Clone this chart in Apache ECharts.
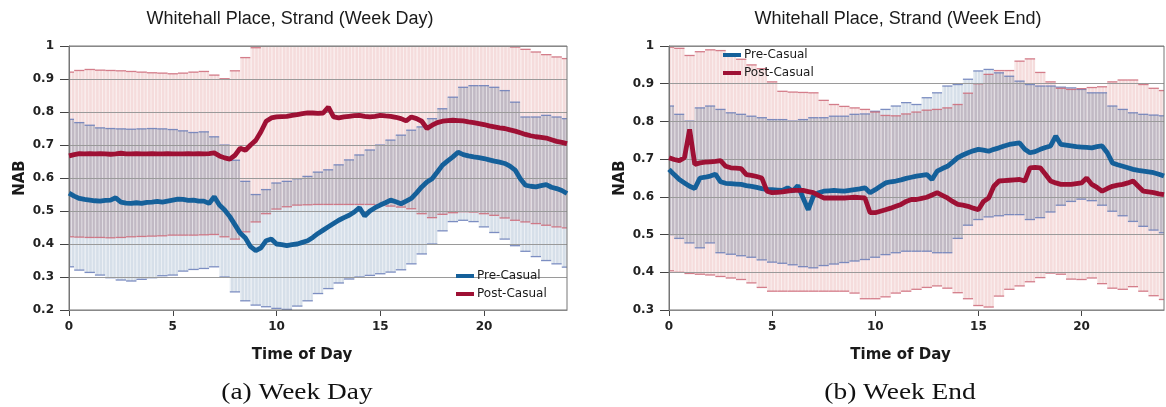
<!DOCTYPE html>
<html><head><meta charset="utf-8">
<script src="https://cdn.jsdelivr.net/npm/echarts@6/dist/echarts.min.js"></script>
<style>html,body{margin:0;padding:0;background:#fff}#c{width:1166px;height:407px}</style>
</head><body><div id="c"></div>
<script>
// ---------- DATA ----------
const seriesNames = ['Pre-Casual', 'Post-Casual'];
const chartTitles = ['Whitehall Place, Strand (Week Day)', 'Whitehall Place, Strand (Week End)'];
const captions = ['(a) Week Day', '(b) Week End'];
const xTicks = [0, 5, 10, 15, 20];

// sampling times (hours): means every 15 min, error bands every 30 min
const meanHours = Array.from({length: 97}, (_, i) => i * 0.25);
const bandHours = Array.from({length: 49}, (_, i) => i * 0.5);

// Week Day means (NAB)
const wdPreMean = [
  .554,.545,.538,.535, .533,.531,.530,.532, .533,.540,.527,.524, .523,.525,.523,.526,
  .527,.529,.527,.530, .533,.536,.535,.532, .533,.530,.530,.523, .543,.518,.503,.483,
  .458,.433,.418,.392, .380,.388,.410,.415, .400,.398,.395,.398, .400,.405,.410,.420,
  .432,.442,.452,.462, .472,.480,.487,.497, .510,.485,.500,.510, .518,.525,.533,.528,
  .522,.530,.538,.555, .573,.588,.598,.618, .639,.652,.664,.678, .671,.667,.664,.662,
  .659,.655,.651,.648, .644,.636,.624,.598, .578,.575,.573,.577, .580,.572,.568,.562,
  .553];
const wdPostMean = [
  .667,.671,.674,.673, .674,.673,.674,.673, .672,.673,.675,.673, .673,.674,.673,.673,
  .674,.673,.673,.674, .673,.673,.673,.674, .673,.674,.673,.674, .676,.667,.661,.657,
  .669,.690,.684,.700, .714,.740,.772,.782, .785,.786,.787,.790, .792,.795,.797,.797,
  .796,.797,.815,.785, .782,.785,.787,.789, .790,.787,.785,.787, .790,.788,.787,.784,
  .780,.773,.785,.780, .772,.750,.760,.768, .772,.774,.775,.774, .773,.770,.768,.765,
  .762,.758,.755,.752, .750,.746,.742,.737, .732,.728,.725,.723, .721,.716,.711,.708,
  .704];
// Week Day bands (every 30 min)
const wdPreHi = [
  .778,.768,.760,.752,.750,.749,.748,.749,.750,.749,
  .747,.743,.738,.740,.725,.700,.654,.590,.550,.565,
  .585,.590,.598,.605,.618,.625,.640,.655,.670,.685,
  .700,.715,.730,.745,.755,.780,.810,.845,.875,.880,
  .880,.875,.865,.830,.785,.785,.790,.785,.780];
const wdPreLo = [
  .331,.321,.314,.306,.298,.291,.288,.293,.298,.304,
  .306,.318,.323,.326,.331,.300,.255,.228,.215,.210,
  .205,.202,.212,.228,.250,.265,.282,.294,.300,.305,
  .310,.315,.322,.340,.370,.400,.440,.468,.472,.468,
  .452,.435,.415,.395,.378,.362,.350,.340,.330];
const wdPostHi = [
  .921,.926,.929,.927,.926,.925,.923,.921,.919,.918,
  .916,.918,.921,.923,.912,.901,.925,.965,.995,1.0,
  1.0,1.0,1.0,1.0,1.0,1.0,1.0,1.0,1.0,1.0,
  1.0,1.0,1.0,1.0,1.0,1.0,1.0,1.0,1.0,1.0,
  1.0,1.0,1.0,.997,.990,.982,.974,.967,.962];
const wdPostLo = [
  .422,.421,.420,.420,.419,.420,.422,.423,.424,.425,
  .427,.427,.427,.428,.429,.422,.415,.437,.467,.492,
  .506,.513,.518,.519,.520,.520,.520,.520,.520,.520,
  .518,.515,.512,.507,.492,.480,.490,.495,.498,.497,
  .492,.487,.479,.472,.467,.462,.457,.452,.449];

// Week End means (NAB)
const wePreMean = [
  .673,.659,.646,.637, .628,.622,.650,.652, .655,.660,.640,.636, .635,.634,.633,.630,
  .628,.625,.622,.620, .619,.618,.617,.624, .615,.630,.597,.566, .602,.611,.615,.616,
  .617,.616,.615,.617, .619,.621,.624,.611, .619,.628,.637,.640, .642,.645,.649,.652,
  .655,.657,.659,.646, .668,.675,.681,.692, .704,.711,.717,.722, .726,.724,.721,.726,
  .730,.735,.739,.741, .743,.726,.717,.720, .726,.731,.735,.761, .739,.737,.735,.733,
  .732,.731,.730,.733, .735,.717,.690,.685, .681,.677,.673,.670, .668,.666,.664,.660,
  .655];
const wePostMean = [
  .704,.699,.696,.704, .779,.686,.690,.692, .693,.694,.696,.681, .677,.676,.675,.659,
  .657,.654,.650,.615, .611,.612,.613,.615, .617,.617,.617,.614, .611,.604,.597,.597,
  .597,.597,.597,.598, .599,.598,.597,.558, .558,.562,.566,.570, .575,.580,.588,.593,
  .593,.596,.599,.605, .611,.604,.597,.588, .580,.578,.575,.570, .566,.588,.597,.628,
  .642,.643,.644,.645, .646,.642,.677,.678, .677,.660,.642,.637, .633,.633,.633,.635,
  .637,.650,.633,.625, .615,.622,.628,.631, .633,.637,.642,.628, .615,.613,.611,.608,
  .606];
// Week End bands (every 30 min)
const wePreHi = [
  .841,.819,.801,.836,.841,.832,.823,.819,.814,.810,
  .805,.805,.801,.805,.810,.810,.814,.814,.819,.820,
  .827,.832,.841,.850,.845,.863,.876,.894,.898,.912,
  .934,.938,.929,.920,.907,.898,.894,.894,.891,.889,
  .885,.876,.876,.841,.832,.823,.819,.817,.815];
const wePreLo = [
  .500,.490,.478,.465,.478,.452,.448,.444,.440,.433,
  .427,.424,.420,.415,.412,.418,.422,.426,.430,.434,
  .440,.447,.452,.456,.456,.456,.452,.452,.490,.525,
  .540,.547,.550,.553,.553,.540,.545,.560,.578,.588,
  .594,.590,.578,.562,.550,.535,.522,.512,.505];
const wePostHi = [
  .997,.994,.975,.985,.990,.988,.975,.965,.950,.940,
  .905,.880,.878,.877,.876,.856,.845,.840,.836,.832,
  .825,.816,.815,.820,.825,.830,.832,.836,.845,.875,
  .900,.925,.935,.935,.960,.966,.930,.905,.888,.885,
  .887,.890,.892,.905,.910,.910,.898,.888,.882];
const wePostLo = [
  .404,.400,.397,.395,.393,.389,.385,.381,.372,.360,
  .350,.350,.350,.350,.350,.350,.350,.350,.345,.330,
  .330,.335,.345,.350,.355,.360,.364,.358,.346,.330,
  .312,.308,.337,.355,.364,.375,.386,.398,.395,.382,
  .381,.385,.370,.358,.355,.362,.350,.338,.328];

// ---------- STYLE ----------
const PRE_COLOR = '#15609a';
const POST_COLOR = '#9e1034';
const FONT = 'Liberation Sans, Arial, sans-serif';
const WFONT = 'DejaVu Sans, sans-serif';

function bandData(hi1, lo1, hi2, lo2) {
  return bandHours.map((h, i) => [h, lo1[i], hi1[i], lo2[i], hi2[i]]);
}
function pairs(vals) { return meanHours.map((h, i) => [h, vals[i]]); }

function renderBand(params, api) {
  const t = api.value(0);
  const pl = api.value(1), ph = api.value(2), ql = api.value(3), qh = api.value(4);
  const xa = api.coord([t - 0.25, pl])[0];
  const xb = api.coord([t + 0.25, pl])[0];
  const w = xb - xa;
  const Y = v => api.coord([t, v])[1];
  const ch = [];
  const rect = (lo, hi, fill) => {
    if (hi <= lo) return;
    const y1 = Y(hi), y2 = Y(lo);
    ch.push({type: 'rect', shape: {x: xa, y: y1, width: w, height: y2 - y1}, style: {fill: fill}});
  };
  rect(pl, ph, '#d6dfe9');
  rect(ql, qh, '#f5dcdc');
  rect(Math.max(pl, ql), Math.min(ph, qh), '#c1b9c4');
  // thin vertical stripes of the error bars
  const top = Y(Math.max(ph, qh)), bot = Y(Math.min(pl, ql));
  for (let k = 0; k < 3; k++) {
    ch.push({type: 'rect', shape: {x: xa + k * w / 3 + 0.3, y: top, width: 0.9, height: bot - top},
             style: {fill: 'rgba(255,255,255,0.6)'}});
  }
  // caps
  const cap = (v, c) => ch.push({type: 'rect', shape: {x: xa, y: Y(v) - 0.6, width: w, height: 1.3}, style: {fill: c}});
  cap(ph, 'rgba(105,125,185,0.85)');
  cap(pl, 'rgba(105,125,185,0.85)');
  cap(qh, 'rgba(205,105,120,0.85)');
  cap(ql, 'rgba(205,105,120,0.85)');
  return {type: 'group', children: ch};
}

function makeAxes(idx, yMin) {
  const x = {
    type: 'value', gridIndex: idx, min: 0, max: 24, interval: 5,
    name: 'Time of Day', nameLocation: 'middle', nameGap: 38,
    nameTextStyle: {fontFamily: WFONT, fontWeight: 'bold', fontSize: 15, color: '#1a1a1a', padding: [0, 32, 0, 0]},
    axisLine: {show: true, lineStyle: {color: '#777', width: 1}},
    axisTick: {show: true, length: 6, customValues: xTicks, lineStyle: {color: '#444'}},
    axisLabel: {customValues: xTicks, margin: 11, fontFamily: WFONT, fontWeight: 'bold', fontSize: 12, color: '#222'},
    splitLine: {show: false}
  };
  const y = {
    type: 'value', gridIndex: idx, min: yMin, max: 1, interval: 0.1, z: 3,
    name: 'NAB', nameLocation: 'middle', nameGap: 41, nameRotate: 90,
    nameTextStyle: {fontFamily: WFONT, fontWeight: 'bold', fontSize: 15, color: '#1a1a1a'},
    axisLine: {show: true, lineStyle: {color: '#777', width: 1}},
    axisTick: {show: true, length: 9, lineStyle: {color: '#444'}},
    axisLabel: {margin: 15, fontFamily: WFONT, fontWeight: 'bold', fontSize: 12, color: '#222'},
    splitLine: {show: true, lineStyle: {color: '#9a9a9a', width: 1}}
  };
  return [x, y];
}

const [x0, y0] = makeAxes(0, 0.2);
const [x1, y1] = makeAxes(1, 0.3);

function chartSeries(idx, hi1, lo1, hi2, lo2, m1, m2) {
  return [
    {type: 'custom', name: 'band' + idx, xAxisIndex: idx, yAxisIndex: idx, z: 1, clip: true, silent: true,
     renderItem: renderBand, data: bandData(hi1, lo1, hi2, lo2), encode: {x: 0, y: [1, 2, 3, 4]}},
    {type: 'line', name: seriesNames[0], xAxisIndex: idx, yAxisIndex: idx, z: 5, showSymbol: false,
     color: PRE_COLOR, lineStyle: {width: 4.8, color: PRE_COLOR}, data: pairs(m1), animation: false},
    {type: 'line', name: seriesNames[1], xAxisIndex: idx, yAxisIndex: idx, z: 5, showSymbol: false,
     color: POST_COLOR, lineStyle: {width: 4.8, color: POST_COLOR}, data: pairs(m2), animation: false}
  ];
}

const legendBase = {
  data: seriesNames, orient: 'vertical', icon: 'rect', itemWidth: 18, itemHeight: 4, itemGap: 6,
  selectedMode: false, textStyle: {fontFamily: WFONT, fontSize: 12, color: '#1a1a1a', padding: [0, 0, 0, -2]}
};

const capFont = '23px Liberation Serif, DejaVu Serif, serif';
const option = {
  animation: false,
  backgroundColor: '#fff',
  grid: [
    {left: 69, top: 46, width: 498, height: 264, show: true, z: 4, backgroundColor: 'transparent', borderColor: '#777', borderWidth: 1},
    {left: 669, top: 46, width: 495, height: 264, show: true, z: 4, backgroundColor: 'transparent', borderColor: '#777', borderWidth: 1}
  ],
  xAxis: [x0, x1],
  yAxis: [y0, y1],
  legend: [
    Object.assign({}, legendBase, {left: 451, top: 265}),
    Object.assign({}, legendBase, {left: 718, top: 44})
  ],
  graphic: [
    {type: 'text', x: 290, y: 19, style: {text: chartTitles[0], font: '18px ' + FONT, fill: '#1a1a1a', textAlign: 'center', textVerticalAlign: 'middle'}},
    {type: 'text', x: 898, y: 19, style: {text: chartTitles[1], font: '18px ' + FONT, fill: '#1a1a1a', textAlign: 'center', textVerticalAlign: 'middle'}},
    {type: 'text', x: 297, y: 393, scaleX: 1.19, style: {text: captions[0], font: capFont, fill: '#111', textAlign: 'center', textVerticalAlign: 'middle'}},
    {type: 'text', x: 900, y: 393, scaleX: 1.19, style: {text: captions[1], font: capFont, fill: '#111', textAlign: 'center', textVerticalAlign: 'middle'}}
  ],
  series: [].concat(
    chartSeries(0, wdPreHi, wdPreLo, wdPostHi, wdPostLo, wdPreMean, wdPostMean),
    chartSeries(1, wePreHi, wePreLo, wePostHi, wePostLo, wePreMean, wePostMean)
  )
};

const chart = echarts.init(document.getElementById('c'), null, {renderer: 'canvas'});
chart.setOption(option);
</script>
</body></html>
